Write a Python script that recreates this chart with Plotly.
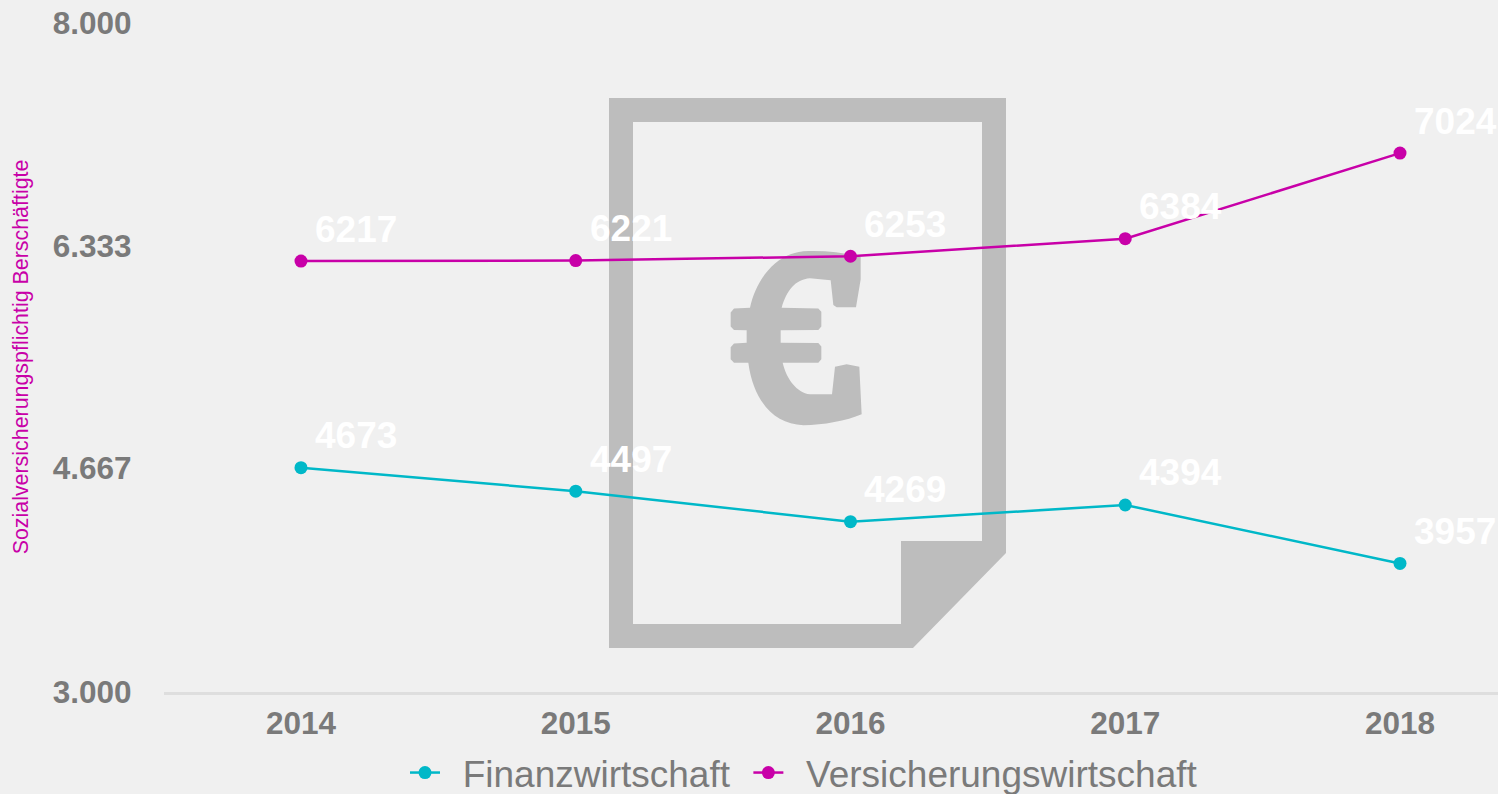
import plotly.graph_objects as go

years = ["2014", "2015", "2016", "2017", "2018"]
finanz = [4673, 4497, 4269, 4394, 3957]
versicherung = [6217, 6221, 6253, 6384, 7024]
y_ticks = [3000, 4667, 6333, 8000]
y_ticklabels = ["3.000", "4.667", "6.333", "8.000"]
names = ["\u00a0\u2009Finanzwirtschaft\u00a0\u200a", "\u00a0\u2009Versicherungswirtschaft"]
y_title = "Sozialversicherungspflichtig Berschäftigte"

CYAN = "#00b8c8"
MAGENTA = "#c800a8"
GREY = "#7a7a7a"
BG = "#f0f0f0"
ICON = "#bdbdbd"
FONT = "Liberation Sans, Arial, sans-serif"

W, H = 1498, 808  # slightly taller than the window: the legend sits at the very bottom edge
L, R, T, B = 163.6, 1498, 22.5, 691.5


def px(x, y):
    return f"{x / W:.5f},{(H - y) / H:.5f}"


def z(x, y):
    # coordinates measured in the zoomed icon crop
    return px(590 + x / 3, 80 + y / 2.657)


doc_path = (
    "M" + px(609, 98) + "L" + px(1006, 98) + "L" + px(1006, 553) + "L" + px(913, 648) + "L" + px(609, 648) + "Z"
    "M" + px(633, 122) + "L" + px(982, 122) + "L" + px(982, 541) + "L" + px(901, 541) + "L" + px(901, 624) + "L" + px(633, 624) + "Z"
)
euro_path = (
    "M" + z(812, 470)
    + "C" + z(760, 458) + " " + z(700, 452) + " " + z(640, 455)
    + "C" + z(560, 462) + " " + z(500, 525) + " " + z(480, 605)
    + "L" + z(432, 607) + "L" + z(422, 618) + "L" + z(422, 655) + "L" + z(432, 664) + "L" + z(470, 665)
    + "L" + z(470, 698) + "L" + z(432, 700) + "L" + z(422, 710) + "L" + z(422, 742) + "L" + z(432, 751) + "L" + z(475, 751)
    + "C" + z(490, 850) + " " + z(550, 915) + " " + z(640, 917)
    + "C" + z(700, 917) + " " + z(770, 905) + " " + z(815, 888)
    + "L" + z(808, 762) + "L" + z(770, 755) + "L" + z(735, 762) + "L" + z(726, 835) + "L" + z(660, 835)
    + "C" + z(620, 830) + " " + z(590, 795) + " " + z(578, 751)
    + "L" + z(685, 751) + "L" + z(694, 742) + "L" + z(694, 708) + "L" + z(685, 699) + "L" + z(572, 698)
    + "L" + z(572, 665) + "L" + z(685, 664) + "L" + z(694, 655) + "L" + z(694, 616) + "L" + z(685, 607) + "L" + z(575, 605)
    + "C" + z(590, 560) + " " + z(615, 530) + " " + z(660, 527)
    + "L" + z(722, 532) + "L" + z(730, 598) + "L" + z(740, 604) + "L" + z(798, 604)
    + "L" + z(812, 530) + "Z"
)

fig = go.Figure()
for name, vals, col in [(names[0], finanz, CYAN), (names[1], versicherung, MAGENTA)]:
    fig.add_trace(go.Scatter(
        x=years, y=vals, name=name, mode="lines+markers",
        line=dict(color=col, width=2.5),
        marker=dict(color=col, size=13),
        cliponaxis=False,
    ))
    for i, v in enumerate(vals):
        fig.add_annotation(
            x=i, y=v, text=str(v), showarrow=False,
            xanchor="left", yanchor="middle", xshift=12, yshift=32,
            font=dict(family=FONT, size=37, color="white", weight="bold"),
        )

fig.update_layout(
    width=W, height=H, autosize=False,
    paper_bgcolor=BG, plot_bgcolor=BG,
    margin=dict(l=0, r=0, t=0, b=0, pad=0),
    font=dict(family=FONT, color=GREY),
    shapes=[
        dict(type="path", xref="paper", yref="paper", path=doc_path, fillcolor=ICON, line_width=0, layer="below"),
        dict(type="path", xref="paper", yref="paper", path=euro_path, fillcolor=ICON, line_width=0, layer="below"),
    ],
    legend=dict(
        orientation="h", x=405 / W, xanchor="left",
        y=(H - 773) / H, yanchor="middle",
        font=dict(family=FONT, size=37, color=GREY),
        bgcolor="rgba(0,0,0,0)", itemwidth=30, tracegroupgap=0,
    ),
    xaxis=dict(
        type="category", range=[-0.5, (1498 - 301) / 274.75], domain=[L / W, 1],
        showgrid=False, zeroline=False, showline=True, linecolor="#dedede", linewidth=3,
        ticks="", ticklabelstandoff=2, automargin=False,
        tickfont=dict(family=FONT, size=31.5, color=GREY, weight="bold"),
    ),
    yaxis=dict(
        range=[3000, 8000], tickvals=y_ticks, ticktext=y_ticklabels,
        domain=[(H - B) / H, (H - T) / H],
        showgrid=False, zeroline=False, showline=False, ticks="", ticklabelstandoff=31,
        tickfont=dict(family=FONT, size=31.5, color=GREY, weight="bold"),
        title=dict(text=y_title, font=dict(family=FONT, size=21.4, color=MAGENTA), standoff=18),
        automargin=False,
    ),
)

fig.write_html(
    "out.html",
    config={"displayModeBar": False},
    post_script="document.documentElement.style.overflow='hidden';document.documentElement.style.height='794px';document.body.style.margin='0';document.body.style.overflow='hidden';document.body.style.height='794px';",
)
